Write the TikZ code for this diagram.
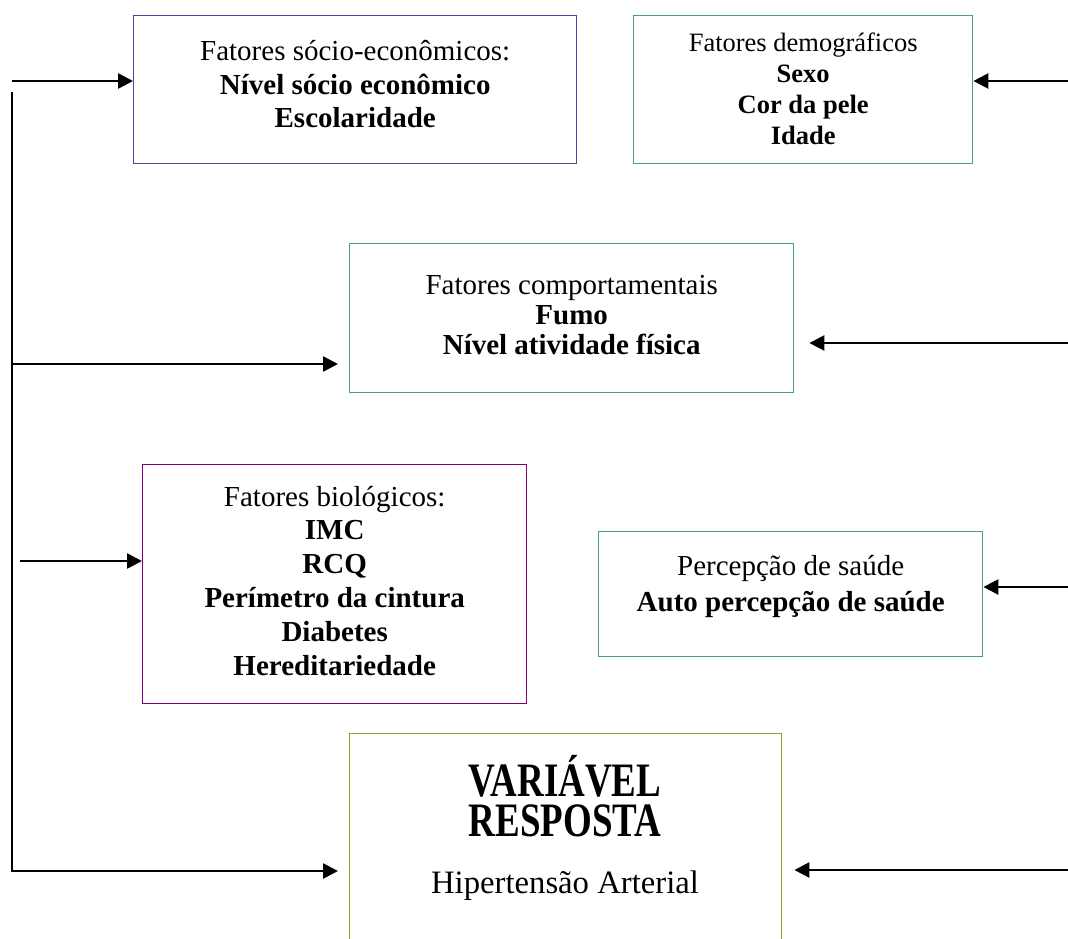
\documentclass[tikz,border=0pt]{standalone}
\usepackage{fontspec}
\usepackage{graphicx}
\setmainfont{Liberation Serif}
\usetikzlibrary{arrows.meta}
\definecolor{bblue}{RGB}{70,70,165}
\definecolor{bgreen}{RGB}{70,165,110}
\definecolor{bpurple}{RGB}{128,0,128}
\definecolor{bolive}{RGB}{155,155,50}
\begin{document}
\begin{tikzpicture}[x=1pt,y=-1pt,
  box/.style={draw, line width=1.4pt, anchor=north west, inner sep=0pt},
  txt/.style={align=center, inner sep=0pt},
  arr/.style={line width=2.6pt, line join=miter, -{Triangle[length=15pt,width=15pt]}},
  fa/.style={font=\fontsize{29}{33.5}\selectfont},
  fb/.style={font=\fontsize{26.5}{31}\selectfont},
  fc/.style={font=\fontsize{29}{30}\selectfont},
  fd/.style={font=\fontsize{29}{33.8}\selectfont},
  fe/.style={font=\fontsize{29}{36}\selectfont},
  ftitle/.style={font=\fontsize{48}{40}\selectfont\bfseries, align=center, anchor=south, inner sep=0pt, text depth=0pt},
  fsub/.style={font=\fontsize{32.7}{36}\selectfont, anchor=base},
]
\clip (0,0) rectangle (1068,938);
\fill[white] (0,0) rectangle (1068,938);
% boxes
\node[box, draw=bblue, minimum width=443pt, minimum height=148pt] (b1) at (133,15) {};
\node[box, draw=bgreen, minimum width=339pt, minimum height=148pt] (b2) at (633,15) {};
\node[box, draw=bgreen, minimum width=444pt, minimum height=149pt] (b3) at (349,243) {};
\node[box, draw=bpurple, minimum width=384pt, minimum height=239pt] (b4) at (142,464) {};
\node[box, draw=bgreen, minimum width=384pt, minimum height=125pt] (b5) at (598,531) {};
\node[box, draw=bolive, minimum width=432pt, minimum height=240pt] (b6) at (349,733) {};
% texts
\node[txt, fa] (t1) at ([yshift=5.5pt]b1.center)
  {Fatores sócio-econômicos:\\\textbf{Nível sócio econômico}\\\textbf{Escolaridade}};
\node[txt, fb] (t2) at ([yshift=1pt]b2.center)
  {Fatores demográficos\\\textbf{Sexo}\\\textbf{Cor da pele}\\\textbf{Idade}};
\node[txt, fc] (t3) at ([yshift=3pt]b3.center)
  {Fatores comportamentais\\\textbf{Fumo}\\\textbf{Nível atividade física}};
\node[txt, fd] (t4) at ([yshift=3.5pt]b4.center)
  {Fatores biológicos:\\\textbf{IMC}\\\textbf{RCQ}\\\textbf{Perímetro da cintura}\\\textbf{Diabetes}\\\textbf{Hereditariedade}};
\node[txt, fe] (t5) at ([yshift=8pt]b5.center)
  {Percepção de saúde\\\textbf{Auto percepção de saúde}};
\node[ftitle] (t6a) at (565,837) {\scalebox{0.77}[1]{VARIÁVEL}\\\scalebox{0.77}[1]{RESPOSTA}};
\node[fsub] (t6c) at (565,893) {Hipertensão Arterial};
% connector ends
\coordinate (L0) at (12,92);
\coordinate (L1) at (12,81);
\coordinate (L3) at (12,364);
\coordinate (L4) at (20,561);
\coordinate (L6) at (12,871);
\coordinate (R2) at (1068,81);
\coordinate (R3) at (1068,343);
\coordinate (R5) at (1068,587);
\coordinate (R6) at (1068,870);
% connectors
\draw[arr, shorten >=11pt] (L0) -- (L6) -- (L6 -| b6.west);
\draw[arr] (L1) -- (L1 -| b1.west);
\draw[arr, shorten >=11pt] (L3) -- (L3 -| b3.west);
\draw[arr] (L4) -- (L4 -| b4.west);
\draw[arr] (R2) -- (R2 -| b2.east);
\draw[arr, shorten >=15pt] (R3) -- (R3 -| b3.east);
\draw[arr] (R5) -- (R5 -| b5.east);
\draw[arr, shorten >=12pt] (R6) -- (R6 -| b6.east);
\end{tikzpicture}
\end{document}
